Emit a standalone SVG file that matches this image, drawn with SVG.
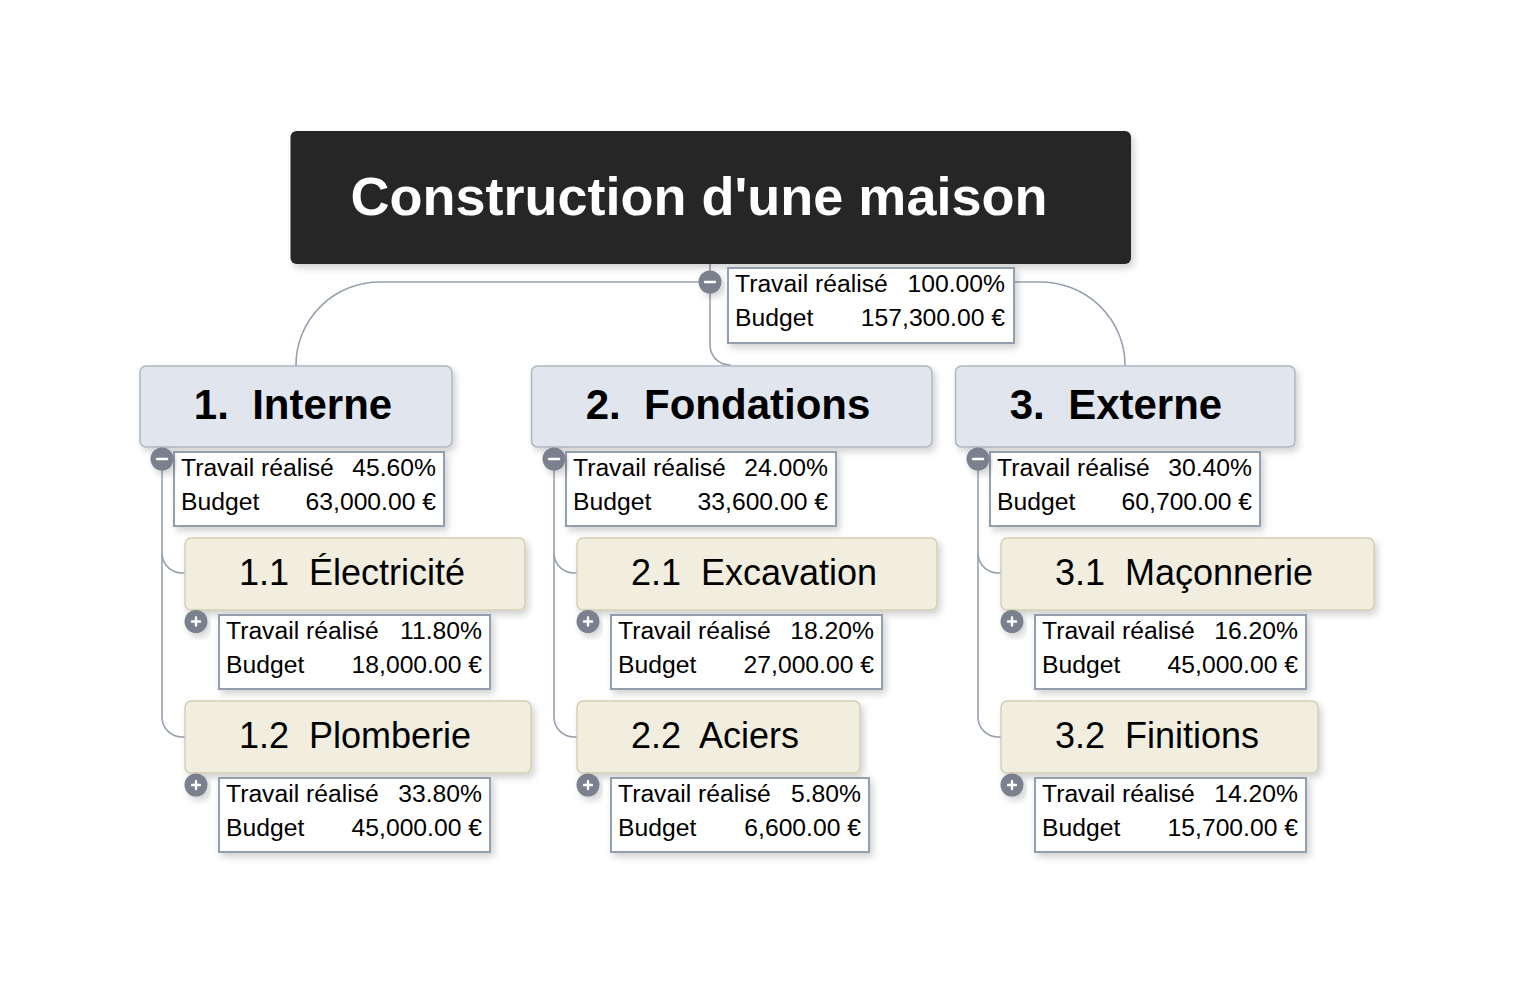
<svg xmlns="http://www.w3.org/2000/svg" width="1514" height="1002" viewBox="0 0 1514 1002">
<defs>
<filter id="sh" x="-10%" y="-20%" width="125%" height="150%">
<feDropShadow dx="3" dy="4" stdDeviation="3.5" flood-color="#000" flood-opacity="0.18"/>
</filter>
<style>
.root{fill:#262626;filter:url(#sh)}
.l1{fill:#e1e6ee;stroke:#aeb6c2;stroke-width:1.5;filter:url(#sh)}
.l2{fill:#f1eedf;stroke:#d3cfb2;stroke-width:1.5;filter:url(#sh)}
.info{fill:#ffffff;stroke:#939eae;stroke-width:2;filter:url(#sh)}
.title{font-family:"Liberation Sans",Arial,sans-serif;font-weight:bold;font-size:54px;fill:#ffffff;text-anchor:middle}
.t1{font-family:"Liberation Sans",Arial,sans-serif;font-weight:bold;font-size:42px;fill:#000;text-anchor:middle}
.t2{font-family:"Liberation Sans",Arial,sans-serif;font-size:36px;fill:#000;text-anchor:middle}
.it{font-family:"Liberation Sans",Arial,sans-serif;font-size:24.7px;fill:#000}
.iv{font-family:"Liberation Sans",Arial,sans-serif;font-size:24.7px;fill:#000;text-anchor:end}
.conn{fill:none;stroke:#97a1ae;stroke-width:1.6}
.btn{fill:#7a808e;filter:url(#sh)}
.sym{stroke:#ffffff;stroke-width:2.4;stroke-linecap:round}
</style>
</defs>
<rect width="1514" height="1002" fill="#ffffff"/>

<g id="connectors">
<path class="conn" d="M710 264 V345 A20 20 0 0 0 730 365 V367"/>
<path class="conn" d="M710 282 H380 A84 83 0 0 0 296 365 V367"/>
<path class="conn" d="M1014 282 H1040 A85 83 0 0 1 1125 365 V367"/>
<path class="conn" d="M162 447 V553 A20 20 0 0 0 182 573 H186"/>
<path class="conn" d="M162 553 V717 A20 20 0 0 0 182 737 H186"/>
<path class="conn" d="M554 447 V553 A20 20 0 0 0 574 573 H578"/>
<path class="conn" d="M554 553 V717 A20 20 0 0 0 574 737 H578"/>
<path class="conn" d="M978 447 V553 A20 20 0 0 0 998 573 H1002"/>
<path class="conn" d="M978 553 V717 A20 20 0 0 0 998 737 H1002"/>
</g>

<g id="root">
<rect class="root" x="290.5" y="131" width="840.5" height="133" rx="6"/>
<text class="title" x="699" y="215">Construction d'une maison</text>
<rect class="info" x="728" y="268" width="286" height="75"/>
<text class="it" x="735" y="292">Travail réalisé</text><text class="iv" x="1005" y="292">100.00%</text>
<text class="it" x="735" y="326">Budget</text><text class="iv" x="1005" y="326">157,300.00 €</text>
<circle class="btn" cx="710" cy="282" r="11.5"/><line class="sym" x1="705" y1="282" x2="715" y2="282"/>
</g>

<g id="n1">
<rect class="l1" x="140" y="366" width="312" height="81" rx="6"/>
<text class="t1" x="293" y="419">1.&#160; Interne</text>
<rect class="info" x="174" y="452" width="270" height="74"/>
<text class="it" x="181" y="476">Travail réalisé</text><text class="iv" x="436" y="476">45.60%</text>
<text class="it" x="181" y="510">Budget</text><text class="iv" x="436" y="510">63,000.00 €</text>
<circle class="btn" cx="162" cy="459" r="11.5"/><line class="sym" x1="157" y1="459" x2="167" y2="459"/>
</g>

<g id="n2">
<rect class="l1" x="531.5" y="366" width="400.5" height="81" rx="6"/>
<text class="t1" x="728" y="419">2.&#160; Fondations</text>
<rect class="info" x="566" y="452" width="270" height="74"/>
<text class="it" x="573" y="476">Travail réalisé</text><text class="iv" x="828" y="476">24.00%</text>
<text class="it" x="573" y="510">Budget</text><text class="iv" x="828" y="510">33,600.00 €</text>
<circle class="btn" cx="554" cy="459" r="11.5"/><line class="sym" x1="549" y1="459" x2="559" y2="459"/>
</g>

<g id="n3">
<rect class="l1" x="955.5" y="366" width="339.5" height="81" rx="6"/>
<text class="t1" x="1116" y="419">3.&#160; Externe</text>
<rect class="info" x="990" y="452" width="270" height="74"/>
<text class="it" x="997" y="476">Travail réalisé</text><text class="iv" x="1252" y="476">30.40%</text>
<text class="it" x="997" y="510">Budget</text><text class="iv" x="1252" y="510">60,700.00 €</text>
<circle class="btn" cx="978" cy="459" r="11.5"/><line class="sym" x1="973" y1="459" x2="983" y2="459"/>
</g>

<g id="n11">
<rect class="l2" x="185" y="538" width="340" height="72" rx="6"/>
<text class="t2" x="352" y="585">1.1&#160; Électricité</text>
<rect class="info" x="219" y="615" width="271" height="74"/>
<text class="it" x="226" y="639">Travail réalisé</text><text class="iv" x="482" y="639">11.80%</text>
<text class="it" x="226" y="673">Budget</text><text class="iv" x="482" y="673">18,000.00 €</text>
<circle class="btn" cx="196" cy="621.5" r="11.5"/><line class="sym" x1="192" y1="621.5" x2="200" y2="621.5"/><line class="sym" x1="196" y1="617.5" x2="196" y2="625.5"/>
</g>

<g id="n12">
<rect class="l2" x="185" y="701" width="346" height="72" rx="6"/>
<text class="t2" x="355" y="748">1.2&#160; Plomberie</text>
<rect class="info" x="219" y="778" width="271" height="74"/>
<text class="it" x="226" y="802">Travail réalisé</text><text class="iv" x="482" y="802">33.80%</text>
<text class="it" x="226" y="836">Budget</text><text class="iv" x="482" y="836">45,000.00 €</text>
<circle class="btn" cx="196" cy="785" r="11.5"/><line class="sym" x1="192" y1="785" x2="200" y2="785"/><line class="sym" x1="196" y1="781" x2="196" y2="789"/>
</g>

<g id="n21">
<rect class="l2" x="577" y="538" width="360" height="72" rx="6"/>
<text class="t2" x="754" y="585">2.1&#160; Excavation</text>
<rect class="info" x="611" y="615" width="271" height="74"/>
<text class="it" x="618" y="639">Travail réalisé</text><text class="iv" x="874" y="639">18.20%</text>
<text class="it" x="618" y="673">Budget</text><text class="iv" x="874" y="673">27,000.00 €</text>
<circle class="btn" cx="588" cy="621.5" r="11.5"/><line class="sym" x1="584" y1="621.5" x2="592" y2="621.5"/><line class="sym" x1="588" y1="617.5" x2="588" y2="625.5"/>
</g>

<g id="n22">
<rect class="l2" x="577" y="701" width="283" height="72" rx="6"/>
<text class="t2" x="715" y="748">2.2&#160; Aciers</text>
<rect class="info" x="611" y="778" width="258" height="74"/>
<text class="it" x="618" y="802">Travail réalisé</text><text class="iv" x="861" y="802">5.80%</text>
<text class="it" x="618" y="836">Budget</text><text class="iv" x="861" y="836">6,600.00 €</text>
<circle class="btn" cx="588" cy="785" r="11.5"/><line class="sym" x1="584" y1="785" x2="592" y2="785"/><line class="sym" x1="588" y1="781" x2="588" y2="789"/>
</g>

<g id="n31">
<rect class="l2" x="1001" y="538" width="373" height="72" rx="6"/>
<text class="t2" x="1184" y="585">3.1&#160; Maçonnerie</text>
<rect class="info" x="1035" y="615" width="271" height="74"/>
<text class="it" x="1042" y="639">Travail réalisé</text><text class="iv" x="1298" y="639">16.20%</text>
<text class="it" x="1042" y="673">Budget</text><text class="iv" x="1298" y="673">45,000.00 €</text>
<circle class="btn" cx="1012" cy="621.5" r="11.5"/><line class="sym" x1="1008" y1="621.5" x2="1016" y2="621.5"/><line class="sym" x1="1012" y1="617.5" x2="1012" y2="625.5"/>
</g>

<g id="n32">
<rect class="l2" x="1001" y="701" width="317" height="72" rx="6"/>
<text class="t2" x="1157" y="748">3.2&#160; Finitions</text>
<rect class="info" x="1035" y="778" width="271" height="74"/>
<text class="it" x="1042" y="802">Travail réalisé</text><text class="iv" x="1298" y="802">14.20%</text>
<text class="it" x="1042" y="836">Budget</text><text class="iv" x="1298" y="836">15,700.00 €</text>
<circle class="btn" cx="1012" cy="785" r="11.5"/><line class="sym" x1="1008" y1="785" x2="1016" y2="785"/><line class="sym" x1="1012" y1="781" x2="1012" y2="789"/>
</g>
</svg>
